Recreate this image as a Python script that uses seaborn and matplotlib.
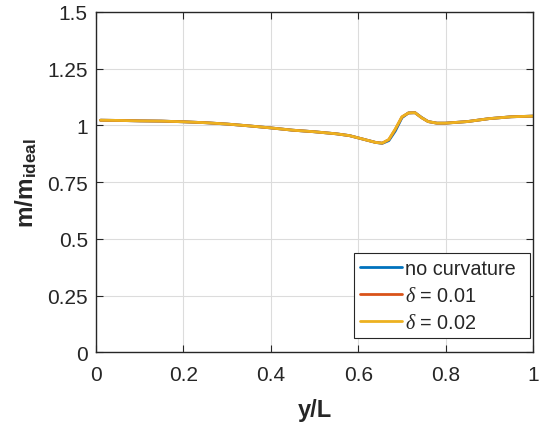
import numpy as np
import pandas as pd
import matplotlib
matplotlib.use("Agg")
import matplotlib.pyplot as plt
import seaborn as sns

# Normalised position along the span
y_over_L = [0.01, 0.05, 0.10, 0.15, 0.20, 0.25, 0.30, 0.35, 0.40, 0.45, 0.50,
            0.55, 0.58, 0.60, 0.62, 0.64, 0.655, 0.67, 0.685, 0.70, 0.715,
            0.73, 0.745, 0.76, 0.78, 0.80, 0.85, 0.90, 0.95, 1.00]

# Mass ratio m/m_ideal for each case
no_curvature = [1.023, 1.022, 1.020, 1.019, 1.016, 1.012, 1.006, 0.998, 0.989,
                0.979, 0.972, 0.963, 0.955, 0.945, 0.935, 0.925, 0.921, 0.933,
                0.976, 1.034, 1.055, 1.056, 1.035, 1.017, 1.010, 1.010, 1.017,
                1.030, 1.038, 1.041]
delta_001 = [1.023, 1.022, 1.020, 1.019, 1.016, 1.012, 1.006, 0.998, 0.989,
             0.979, 0.972, 0.963, 0.955, 0.945, 0.935, 0.925, 0.922, 0.937,
             0.983, 1.037, 1.055, 1.056, 1.034, 1.017, 1.010, 1.010, 1.017,
             1.030, 1.038, 1.041]
delta_002 = [1.023, 1.022, 1.020, 1.019, 1.016, 1.012, 1.006, 0.998, 0.989,
             0.979, 0.972, 0.963, 0.955, 0.945, 0.935, 0.925, 0.922, 0.938,
             0.985, 1.038, 1.055, 1.056, 1.034, 1.017, 1.010, 1.010, 1.017,
             1.030, 1.038, 1.041]

series_names = ["no curvature", r"$\delta$ = 0.01", r"$\delta$ = 0.02"]
series_colors = ["#0072BD", "#D95319", "#EDB120"]

x_ticks = [0, 0.2, 0.4, 0.6, 0.8, 1]
x_tick_labels = ["0", "0.2", "0.4", "0.6", "0.8", "1"]
y_ticks = [0, 0.25, 0.5, 0.75, 1, 1.25, 1.5]
y_tick_labels = ["0", "0.25", "0.5", "0.75", "1", "1.25", "1.5"]

df = pd.concat([
    pd.DataFrame({"x": y_over_L, "m": vals, "case": name})
    for name, vals in zip(series_names, [no_curvature, delta_001, delta_002])
], ignore_index=True)

sns.set_theme(style="white")
plt.rcParams["font.family"] = ["Liberation Sans", "DejaVu Sans"]
plt.rcParams["mathtext.fontset"] = "custom"
plt.rcParams["mathtext.rm"] = "Liberation Sans"
plt.rcParams["mathtext.bf"] = "Liberation Sans:bold"
plt.rcParams["mathtext.it"] = "Liberation Serif:italic"

fig = plt.figure(figsize=(5.40, 4.27), dpi=100)
ax = fig.add_axes([0.178, 0.1726, 0.809, 0.797])

sns.lineplot(data=df, x="x", y="m", hue="case", palette=series_colors,
             linewidth=2.0, ax=ax, legend=True, sort=False)

ax.set_xlim(0, 1)
ax.set_ylim(0, 1.5)
ax.set_xticks(x_ticks)
ax.set_xticklabels(x_tick_labels)
ax.set_yticks(y_ticks)
ax.set_yticklabels(y_tick_labels)
ax.grid(True, color="#dcdcdc", linewidth=0.8)
ax.set_axisbelow(True)

for s in ax.spines.values():
    s.set_visible(True)
    s.set_color("#262626")
    s.set_linewidth(1.0)

ax.tick_params(axis="both", which="both", direction="in", length=5, width=0.8,
               color="#262626", labelsize=15, labelcolor="#262626",
               top=True, right=True, bottom=True, left=True)
ax.tick_params(axis="x", pad=9)
ax.tick_params(axis="y", pad=6)

ax.set_xlabel("y/L", fontsize=17, fontweight="bold", color="#262626", labelpad=10)
ax.set_ylabel(r"$\mathbf{m/m_{ideal}}$", fontsize=17.5, color="#262626", labelpad=6)

# Legend box spans a fixed region in the lower-right corner
leg = ax.legend(loc="lower left", bbox_to_anchor=(0.5908, 0.042, 0.403, 0.2475),
                mode="expand", fontsize=14.3, frameon=True, fancybox=False,
                edgecolor="#262626", framealpha=1, handlelength=2.1,
                handletextpad=0.15, borderpad=0.3, labelspacing=0.4,
                borderaxespad=0.0)
leg.get_frame().set_linewidth(0.8)
leg.set_title(None)

fig.savefig("out.png", dpi=100)
